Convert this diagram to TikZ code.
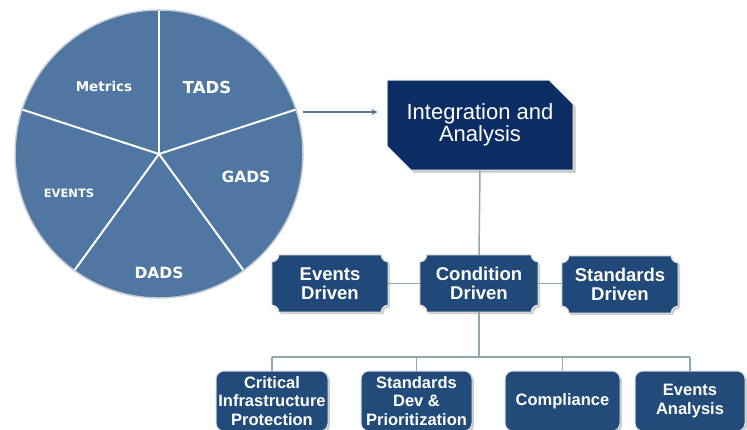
\documentclass[tikz,border=0pt]{standalone}
\usepackage{fontspec}
\setmainfont{Liberation Sans}
\newfontfamily\piefont{DejaVu Sans}
\usetikzlibrary{arrows.meta,shapes.misc,shadows,backgrounds}

\definecolor{piefill}{HTML}{5077A1}
\definecolor{pieedge}{HTML}{C5CCD6}
\definecolor{topblue}{HTML}{0C2D63}
\definecolor{midblue}{HTML}{204878}
\definecolor{lowblue}{HTML}{234B7A}
\definecolor{linkcol}{HTML}{8EA9AC}
\definecolor{arrowcol}{HTML}{5B7395}

% plaque outline with scooped corners around a named node
\newcommand\plaque[1]{([xshift=7pt]#1.north west) -- ([xshift=-7pt]#1.north east)
  arc[start angle=180,end angle=270,radius=7pt] -- ([yshift=7pt]#1.south east)
  arc[start angle=90,end angle=180,radius=7pt] -- ([xshift=7pt]#1.south west)
  arc[start angle=0,end angle=90,radius=7pt] -- ([yshift=-7pt]#1.north west)
  arc[start angle=270,end angle=360,radius=7pt] -- cycle}

\begin{document}
\begin{tikzpicture}[x=1pt,y=-1pt,
  slice/.style={text=white,inner sep=0pt},
  topbox/.style={chamfered rectangle,chamfered rectangle corners={north east,south west},
    chamfered rectangle xsep=12pt,chamfered rectangle ysep=12pt,
    fill=topblue,draw=white!85!gray,line width=1pt,minimum width=186pt,minimum height=90pt,
    text=white,align=center,font=\fontsize{22}{22}\selectfont,
    drop shadow={shadow xshift=2.5pt,shadow yshift=-2.5pt,opacity=.45}},
  midbox/.style={minimum width=116pt,minimum height=57pt,inner sep=0pt,text=white,
    align=center,font=\bfseries\fontsize{18.5}{18.5}\selectfont},
  lowbox/.style={rounded corners=8pt,fill=lowblue,draw=white!80!lowblue,line width=1pt,
    minimum height=60pt,inner sep=0pt,text=white,align=center,
    font=\bfseries\fontsize{16.5}{18.5}\selectfont,
    drop shadow={shadow xshift=2pt,shadow yshift=-2pt,opacity=.4}},
  link/.style={draw=linkcol,line width=1.5pt},
  feed/.style={draw=arrowcol,line width=1.2pt,-{Stealth[length=6pt,width=6pt]}}]
\useasboundingbox (0,0) rectangle (747,429);

% pie of data sources
\coordinate (pc) at (159,154);
\fill[piefill] (pc) circle[radius=144pt];
\foreach \a in {90,18,-54,-126,162}
  \draw[white,line width=2pt] (pc) -- ++(\a:144pt);
\draw[pieedge,line width=1.5pt] (pc) circle[radius=144pt];
\node[slice,font=\piefont\bfseries\fontsize{13.5}{14}\selectfont] (met) at (104,86) {Metrics};
\node[slice,font=\piefont\bfseries\fontsize{16.5}{17}\selectfont] (tads) at (207,87) {TADS};
\node[slice,font=\piefont\bfseries\fontsize{15.5}{16}\selectfont] (gads) at (246,177) {GADS};
\node[slice,font=\piefont\bfseries\fontsize{15.5}{16}\selectfont] (dads) at (159,273) {DADS};
\node[slice,font=\piefont\bfseries\fontsize{11.5}{12}\selectfont] (evt) at (69,193) {EVENTS};

\node[topbox] (ia) at (480,125) {Integration and\\Analysis};

\node[midbox] (evd) at (330,283.5) {Events\\Driven};
\node[midbox,minimum width=118pt] (cnd) at (479,283.5) {Condition\\Driven};
\node[midbox] (std) at (620,284.5) {Standards\\Driven};

\node[lowbox,minimum width=112pt] (cip) at (272,401) {Critical\\Infrastructure\\Protection};
\node[lowbox,minimum width=111pt] (sdp) at (416.5,401) {Standards\\Dev \&\\Prioritization};
\node[lowbox,minimum width=115pt] (cmp) at (562.5,401) {Compliance};
\node[lowbox,minimum width=110pt] (eva) at (690,401) {Events\\Analysis};

\begin{scope}[on background layer]
\foreach \n in {evd,cnd,std}{
  \fill[black!40,opacity=.5,transform canvas={xshift=2pt,yshift=-2pt}] \plaque{\n};
  \filldraw[fill=midblue,draw=white!80!gray,line width=1pt] \plaque{\n};
}
\end{scope}

% connectors
\coordinate (pe) at (303,112);
\draw[feed] (pe) -- ([xshift=-9pt]ia.west |- pe);
\draw[link] (ia.south) -- (cnd.north);
\draw[link] (evd.east) -- (cnd.west);
\draw[link] (cnd.east) -- (cnd.east -| std.west);
\coordinate (bus) at (479,357);
\draw[link] (cnd.south) -- (bus);
\draw[link] (cip.north |- bus) -- (eva.north |- bus);
\foreach \n in {cip,sdp,cmp,eva}
  \draw[link] (\n.north |- bus) -- (\n.north);
\end{tikzpicture}
\end{document}
